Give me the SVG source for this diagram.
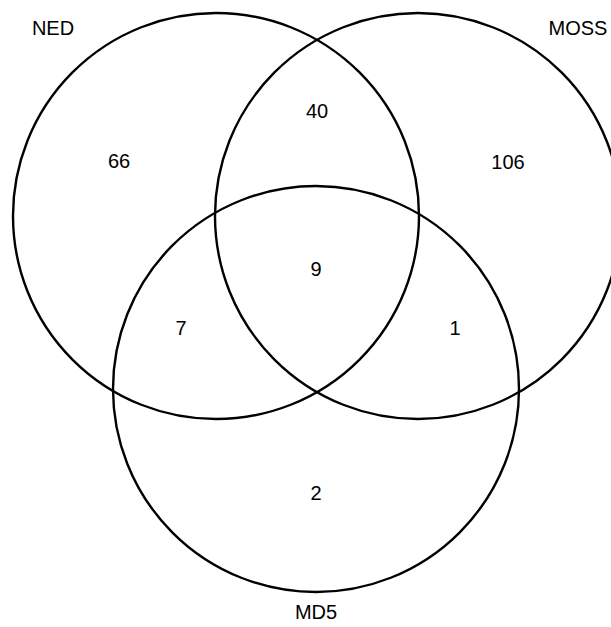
<svg xmlns="http://www.w3.org/2000/svg" width="611" height="627" viewBox="0 0 611 627">
<style>
.c{fill:none;stroke:#000;stroke-width:2.4}
.t{font-family:"Liberation Sans",Arial,sans-serif;font-size:20px;fill:#000;text-anchor:middle}
</style>
<rect width="611" height="627" fill="#fff"/>
<g id="NED"><circle class="c" cx="216" cy="216" r="203"/><text class="t" x="53" y="35">NED</text></g>
<g id="MOSS"><circle class="c" cx="418" cy="216" r="203"/><text class="t" x="578" y="35">MOSS</text></g>
<g id="MD5"><circle class="c" cx="316" cy="389" r="203"/><text class="t" x="316" y="619">MD5</text></g>
<g id="counts">
<text class="t" x="119" y="168">66</text>
<text class="t" x="317" y="118">40</text>
<text class="t" x="508" y="169">106</text>
<text class="t" x="316" y="276">9</text>
<text class="t" x="181" y="335">7</text>
<text class="t" x="455" y="335">1</text>
<text class="t" x="316" y="500">2</text>
</g>
</svg>
